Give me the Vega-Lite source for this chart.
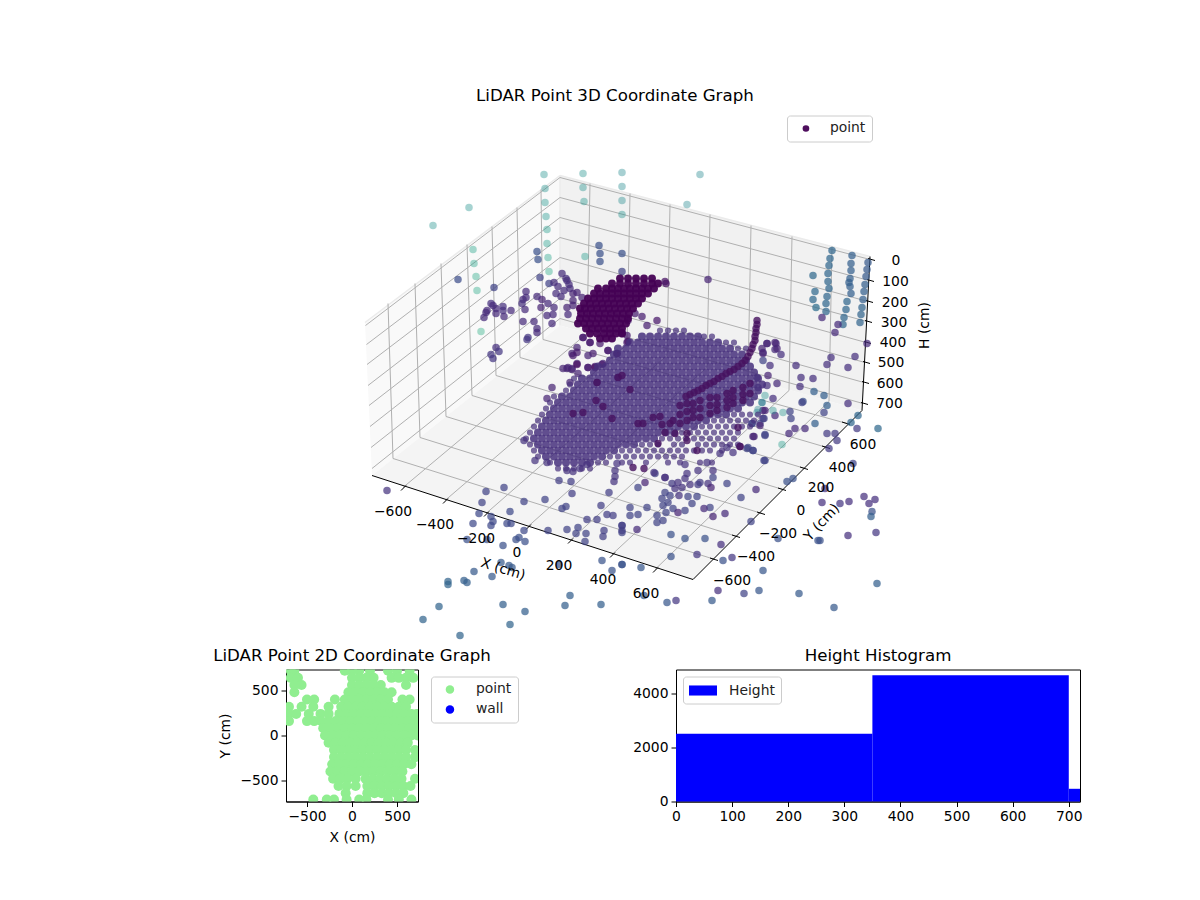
{
"$schema":"https://vega.github.io/schema/vega-lite/v6.json",
"background":"white",
"padding":{"left":212,"top":87.5,"right":120,"bottom":50},
"bounds":"flush",
"spacing":29,
"resolve":{"scale":{"color":"independent"},"legend":{"color":"independent"}},
"config":{"font":"DejaVu Sans","view":{"stroke":null},
"title":{"fontSize":16.67,"fontWeight":"normal","color":"black","offset":5},
"axis":{"grid":false,"domainColor":"black","tickColor":"black","tickSize":5,"labelColor":"black","titleColor":"black","labelFontSize":13.89,"titleFontSize":13.89,"titleFontWeight":"normal","labelPadding":3,"labelFlush":false,"labelOverlap":false,"titlePadding":7},
"legend":{"labelFontSize":13.89,"labelColor":"#222222","fillColor":"white","strokeColor":"#cccccc","cornerRadius":3,"padding":6,"labelOffset":17,"symbolOffset":6}},
"datasets":{
"paneLeft":[{"u":365,"v":322,"v2":322},{"u":372,"v":317,"v2":475},{"u":560,"v":175,"v2":325}],
"paneBack":[{"u":560,"v":175,"v2":325},{"u":862,"v":254,"v2":410},{"u":870,"v":256,"v2":256}],
"paneFloor":[{"u":372,"v":475,"v2":475},{"u":560,"v":325,"v2":536},{"u":693,"v":362,"v2":579},{"u":862,"v":410,"v2":410}],
"edges":[{"u":365,"v":322,"u2":560,"v2":175},{"u":560,"v":175,"u2":870,"v2":256},{"u":560,"v":175,"u2":560,"v2":325}],
"grid":[
{"u":388,"v":303,"u2":393,"v2":458},{"u":415,"v":283,"u2":420,"v2":437},{"u":441,"v":263,"u2":446,"v2":416},{"u":467,"v":244,"u2":472,"v2":395},{"u":492,"v":226,"u2":496,"v2":375},{"u":517,"v":207,"u2":520,"v2":357},{"u":541,"v":189,"u2":543,"v2":339},
{"u":590,"v":183,"u2":587,"v2":333},{"u":630,"v":193,"u2":627,"v2":344},{"u":670,"v":204,"u2":667,"v2":355},{"u":710,"v":214,"u2":707,"v2":367},{"u":751,"v":225,"u2":748,"v2":378},{"u":792,"v":236,"u2":789,"v2":390},{"u":832,"v":246,"u2":829,"v2":401},
{"u":365.5,"v":325,"u2":560,"v2":177},{"u":366.5,"v":344,"u2":560,"v2":197},{"u":367,"v":364,"u2":560,"v2":217},{"u":368,"v":385,"u2":560,"v2":237},{"u":369,"v":405,"u2":560,"v2":257},{"u":370,"v":426,"u2":560,"v2":277},{"u":371,"v":447,"u2":560,"v2":298},{"u":372,"v":468,"u2":560,"v2":318},
{"u":560,"v":177,"u2":870,"v2":259},{"u":560,"v":197,"u2":869,"v2":280},{"u":560,"v":217,"u2":868,"v2":301},{"u":560,"v":237,"u2":867,"v2":321},{"u":560,"v":257,"u2":866,"v2":342},{"u":560,"v":277,"u2":865,"v2":362},{"u":560,"v":298,"u2":864,"v2":382},{"u":560,"v":318,"u2":863,"v2":403},
{"u":393,"v":458,"u2":715,"v2":559},{"u":420,"v":437,"u2":737,"v2":536},{"u":446,"v":416,"u2":762,"v2":513},{"u":472,"v":395,"u2":783,"v2":489},{"u":496,"v":375,"u2":805,"v2":468},{"u":520,"v":357,"u2":827,"v2":447},{"u":543,"v":339,"u2":847,"v2":423},
{"u":403,"v":487,"u2":587,"v2":333},{"u":445,"v":500,"u2":627,"v2":344},{"u":486,"v":513,"u2":667,"v2":355},{"u":528,"v":526,"u2":707,"v2":367},{"u":570,"v":540,"u2":748,"v2":378},{"u":612,"v":554,"u2":789,"v2":390},{"u":655,"v":569,"u2":829,"v2":401}],
"axes":[
{"u":372,"v":475,"u2":693,"v2":579},{"u":693,"v":579,"u2":862,"v2":410},{"u":862,"v":410,"u2":870,"v2":256},
{"u":401,"v":490,"u2":406,"v2":485},{"u":443,"v":503,"u2":448,"v2":498},{"u":484,"v":516,"u2":489,"v2":511},{"u":526,"v":529,"u2":531,"v2":524},{"u":568,"v":543,"u2":573,"v2":538},{"u":610,"v":557,"u2":615,"v2":552},{"u":653,"v":572,"u2":658,"v2":567},
{"u":710,"v":557.5,"u2":718,"v2":560},{"u":732,"v":534.5,"u2":740,"v2":537},{"u":757,"v":511.5,"u2":765,"v2":514},{"u":778,"v":487.5,"u2":786,"v2":490},{"u":800,"v":466.5,"u2":808,"v2":469},{"u":822,"v":445.5,"u2":830,"v2":448},{"u":842,"v":421.5,"u2":850,"v2":424},
{"u":868,"v":258,"u2":875,"v2":260},{"u":867,"v":279,"u2":874,"v2":281},{"u":866,"v":300,"u2":873,"v2":302},{"u":865,"v":320,"u2":872,"v2":322},{"u":864,"v":341,"u2":871,"v2":343},{"u":863,"v":361,"u2":870,"v2":363},{"u":862,"v":381,"u2":869,"v2":383},{"u":861,"v":402,"u2":868,"v2":404}],
"ticks":[
{"u":393,"v":511,"t":"−600"},{"u":435,"v":524,"t":"−400"},{"u":476,"v":538,"t":"−200"},{"u":517,"v":552,"t":"0"},{"u":559,"v":565,"t":"200"},{"u":603,"v":579,"t":"400"},{"u":646,"v":593,"t":"600"},
{"u":732,"v":580,"t":"−600"},{"u":756,"v":556,"t":"−400"},{"u":778,"v":533,"t":"−200"},{"u":801,"v":510,"t":"0"},{"u":821,"v":487,"t":"200"},{"u":842,"v":467,"t":"400"},{"u":863,"v":444,"t":"600"},
{"u":896,"v":260,"t":"0"},{"u":895.5,"v":281,"t":"100"},{"u":895,"v":302,"t":"200"},{"u":894,"v":322,"t":"300"},{"u":893,"v":342,"t":"400"},{"u":891,"v":362,"t":"500"},{"u":890,"v":383,"t":"600"},{"u":889.5,"v":403,"t":"700"}],
"labels":[{"u":503,"v":569,"t":"X (cm)","a":17},{"u":822,"v":522,"t":"Y (cm)","a":313},{"u":925,"v":325,"t":"H (cm)","a":270}],
"scatter":[
{"u":544,"v":174,"c":0.5},{"u":545,"v":188,"c":0.5},{"u":545,"v":202,"c":0.52},{"u":546,"v":216,"c":0.53},{"u":547,"v":229,"c":0.54},{"u":547,"v":243,"c":0.56},{"u":548,"v":257,"c":0.58},{"u":549,"v":271,"c":0.6},{"u":583,"v":173,"c":0.5},{"u":583,"v":187,"c":0.5},{"u":584,"v":201,"c":0.52},{"u":622,"v":172,"c":0.47},{"u":622,"v":186,"c":0.47},{"u":622,"v":200,"c":0.48},{"u":622,"v":214,"c":0.5},{"u":469,"v":207,"c":0.5},{"u":433,"v":225,"c":0.5},{"u":473,"v":249,"c":0.58},{"u":474,"v":263,"c":0.58},{"u":476,"v":276,"c":0.6},{"u":477,"v":290,"c":0.6},{"u":481,"v":331,"c":0.62},{"u":585,"v":256,"c":0.55},{"u":700,"v":174,"c":0.46},{"u":687,"v":204,"c":0.46},
{"u":599,"v":245,"c":0.25},{"u":600,"v":253,"c":0.25},{"u":600,"v":261,"c":0.25},{"u":622,"v":253,"c":0.25},{"u":622,"v":271,"c":0.2},{"u":537,"v":251,"c":0.25},{"u":538,"v":259,"c":0.25},{"u":458,"v":279,"c":0.23},{"u":540,"v":277,"c":0.2},{"u":494,"v":287,"c":0.2},
{"u":562,"v":273,"c":0.13},{"u":566,"v":278,"c":0.13},{"u":567,"v":280,"c":0.13},{"u":569,"v":284,"c":0.13},{"u":570,"v":288,"c":0.13},{"u":549,"v":283,"c":0.2},{"u":554,"v":282,"c":0.13},{"u":558,"v":286,"c":0.13},{"u":556,"v":293,"c":0.13},{"u":561,"v":296,"c":0.13},{"u":564,"v":290,"c":0.13},{"u":573,"v":293,"c":0.1},{"u":577,"v":292,"c":0.1},{"u":582,"v":297,"c":0.1},{"u":573,"v":300,"c":0.1},{"u":573,"v":305,"c":0.1},{"u":567,"v":307,"c":0.1},{"u":554,"v":307,"c":0.12},{"u":568,"v":314,"c":0.12},{"u":553,"v":314,"c":0.12},{"u":547,"v":315,"c":0.12},{"u":552,"v":323,"c":0.12},{"u":548,"v":303,"c":0.12},{"u":541,"v":307,"c":0.1},{"u":542,"v":299,"c":0.1},{"u":537,"v":296,"c":0.12},{"u":526,"v":291,"c":0.12},{"u":526,"v":297,"c":0.12},{"u":523,"v":299,"c":0.12},{"u":522,"v":303,"c":0.14},{"u":525,"v":309,"c":0.12},{"u":503,"v":306,"c":0.14},{"u":511,"v":310,"c":0.12},{"u":503,"v":310,"c":0.14},{"u":496,"v":308,"c":0.12},{"u":496,"v":313,"c":0.12},{"u":491,"v":303,"c":0.14},{"u":493,"v":305,"c":0.12},{"u":487,"v":310,"c":0.12},{"u":486,"v":312,"c":0.12},{"u":484,"v":317,"c":0.12},{"u":504,"v":316,"c":0.12},{"u":523,"v":321,"c":0.12},{"u":534,"v":321,"c":0.12},{"u":537,"v":328,"c":0.12},{"u":537,"v":332,"c":0.12},{"u":528,"v":337,"c":0.16},{"u":527,"v":339,"c":0.16},{"u":496,"v":347,"c":0.14},{"u":491,"v":354,"c":0.16},{"u":499,"v":351,"c":0.16},{"u":493,"v":358,"c":0.16},
{"u":552,"v":387,"c":0.1},{"u":547,"v":398,"c":0.1},{"u":572,"v":353,"c":0.1},{"u":577,"v":347,"c":0.1},{"u":583,"v":337,"c":0.08},{"u":590,"v":342,"c":0.08},{"u":593,"v":353,"c":0.08},{"u":608,"v":350,"c":0.08},{"u":617,"v":353,"c":0.08},{"u":622,"v":333,"c":0.08},{"u":627,"v":342,"c":0.08},{"u":567,"v":368,"c":0.1},{"u":572,"v":368,"c":0.1},{"u":577,"v":363,"c":0.1},{"u":588,"v":367,"c":0.1},{"u":595,"v":366,"c":0.08},{"u":603,"v":363,"c":0.1},{"u":578,"v":373,"c":0.1},{"u":570,"v":382,"c":0.1},{"u":597,"v":382,"c":0.1},{"u":618,"v":377,"c":0.1},
{"u":642,"v":316,"c":0.08},{"u":657,"v":320,"c":0.06},{"u":647,"v":325,"c":0.08},{"u":635,"v":313,"c":0.08},{"u":628,"v":320,"c":0.08},{"u":622,"v":332,"c":0.07},{"u":627,"v":335,"c":0.07},{"u":628,"v":341,"c":0.04},{"u":617,"v":353,"c":0.04},{"u":608,"v":350,"c":0.07},{"u":600,"v":343,"c":0.07},{"u":590,"v":342,"c":0.07},{"u":583,"v":337,"c":0.07},{"u":573,"v":355,"c":0.07},{"u":577,"v":352,"c":0.07},{"u":588,"v":355,"c":0.1},{"u":595,"v":367,"c":0.03},{"u":588,"v":367,"c":0.07},{"u":602,"v":364,"c":0.07},{"u":563,"v":368,"c":0.1},{"u":568,"v":367,"c":0.1},{"u":572,"v":369,"c":0.1},{"u":577,"v":364,"c":0.03},
{"u":665,"v":281,"c":0.04},{"u":666,"v":283,"c":0.04},{"u":708,"v":279,"c":0.1},
{"u":832,"v":250,"c":0.33},{"u":830,"v":258,"c":0.33},{"u":829,"v":265,"c":0.33},{"u":828,"v":273,"c":0.33},{"u":828,"v":281,"c":0.33},{"u":829,"v":288,"c":0.33},{"u":827,"v":296,"c":0.33},{"u":826,"v":303,"c":0.33},{"u":826,"v":311,"c":0.33},
{"u":852,"v":255,"c":0.3},{"u":851,"v":263,"c":0.3},{"u":851,"v":270,"c":0.3},{"u":850,"v":278,"c":0.3},{"u":849,"v":282,"c":0.3},{"u":850,"v":286,"c":0.3},{"u":851,"v":293,"c":0.3},{"u":847,"v":301,"c":0.33},{"u":846,"v":309,"c":0.33},{"u":844,"v":317,"c":0.33},{"u":843,"v":324,"c":0.33},
{"u":868,"v":262,"c":0.28},{"u":867,"v":269,"c":0.28},{"u":866,"v":276,"c":0.28},{"u":865,"v":284,"c":0.3},{"u":864,"v":291,"c":0.3},{"u":863,"v":299,"c":0.3},{"u":862,"v":307,"c":0.32},{"u":861,"v":314,"c":0.32},{"u":860,"v":322,"c":0.32},
{"u":813,"v":275,"c":0.34},{"u":815,"v":291,"c":0.34},{"u":813,"v":299,"c":0.34},{"u":816,"v":307,"c":0.36},
{"u":822,"v":317,"c":0.12},{"u":838,"v":324,"c":0.12},{"u":835,"v":332,"c":0.12},{"u":867,"v":343,"c":0.12},{"u":855,"v":356,"c":0.14},{"u":848,"v":367,"c":0.14},{"u":831,"v":357,"c":0.14},{"u":827,"v":364,"c":0.14},{"u":813,"v":378,"c":0.14},{"u":801,"v":377,"c":0.14},{"u":800,"v":386,"c":0.14},{"u":796,"v":365,"c":0.14},{"u":781,"v":354,"c":0.14},{"u":776,"v":343,"c":0.12},{"u":775,"v":349,"c":0.12},{"u":767,"v":343,"c":0.12},{"u":763,"v":352,"c":0.14},{"u":824,"v":395,"c":0.3},{"u":814,"v":391,"c":0.3},{"u":803,"v":401,"c":0.25},
{"u":767,"v":343,"c":0.1},{"u":775,"v":342,"c":0.1},{"u":777,"v":348,"c":0.1},{"u":762,"v":348,"c":0.1},{"u":763,"v":353,"c":0.1},{"u":757,"v":377,"c":0.15},{"u":763,"v":360,"c":0.2},{"u":770,"v":365,"c":0.14},{"u":768,"v":375,"c":0.1},{"u":758,"v":387,"c":0.15},{"u":767,"v":385,"c":0.14},{"u":777,"v":383,"c":0.12},{"u":773,"v":398,"c":0.14},{"u":765,"v":395,"c":0.5},{"u":762,"v":402,"c":0.4},{"u":757,"v":412,"c":0.45},{"u":763,"v":410,"c":0.12},{"u":775,"v":415,"c":0.12},{"u":763,"v":418,"c":0.12},{"u":760,"v":423,"c":0.2},{"u":752,"v":423,"c":0.2},{"u":765,"v":435,"c":0.2},{"u":753,"v":436,"c":0.1},{"u":753,"v":450,"c":0.2},{"u":765,"v":460,"c":0.2},{"u":747,"v":448,"c":0.2},
{"u":878,"v":428,"c":0.34},{"u":858,"v":415,"c":0.33},{"u":851,"v":422,"c":0.33},{"u":857,"v":428,"c":0.17},{"u":835,"v":433,"c":0.17},{"u":837,"v":440,"c":0.17},{"u":827,"v":433,"c":0.17},{"u":829,"v":448,"c":0.17},{"u":853,"v":463,"c":0.2},{"u":815,"v":423,"c":0.3},{"u":805,"v":428,"c":0.12},{"u":795,"v":428,"c":0.12},{"u":789,"v":433,"c":0.12},{"u":783,"v":412,"c":0.5},{"u":790,"v":411,"c":0.2},{"u":791,"v":418,"c":0.2},{"u":827,"v":405,"c":0.3},{"u":824,"v":412,"c":0.2},{"u":802,"v":402,"c":0.2},{"u":848,"v":403,"c":0.14},{"u":765,"v":434,"c":0.2},{"u":754,"v":436,"c":0.1},{"u":760,"v":425,"c":0.1},{"u":752,"v":423,"c":0.2},{"u":764,"v":418,"c":0.2},{"u":765,"v":410,"c":0.1},{"u":782,"v":444,"c":0.55},{"u":773,"v":410,"c":0.5},{"u":758,"v":409,"c":0.45},
{"u":764,"v":460,"c":0.2},{"u":748,"v":447,"c":0.2},{"u":753,"v":450,"c":0.2},{"u":740,"v":446,"c":0.06},
{"u":787,"v":481,"c":0.25},{"u":793,"v":478,"c":0.25},{"u":756,"v":489,"c":0.12},{"u":741,"v":497,"c":0.2},{"u":727,"v":483,"c":0.2},{"u":713,"v":477,"c":0.2},{"u":710,"v":507,"c":0.2},{"u":704,"v":508,"c":0.12},{"u":725,"v":513,"c":0.12},{"u":713,"v":516,"c":0.1},{"u":751,"v":521,"c":0.2},{"u":721,"v":544,"c":0.14},{"u":705,"v":538,"c":0.25},{"u":685,"v":538,"c":0.25},{"u":671,"v":534,"c":0.25},{"u":671,"v":556,"c":0.25},{"u":697,"v":554,"c":0.16},{"u":732,"v":557,"c":0.16},{"u":723,"v":560,"c":0.25},{"u":763,"v":570,"c":0.27},{"u":718,"v":590,"c":0.14},{"u":744,"v":593,"c":0.2},{"u":759,"v":590,"c":0.27},{"u":799,"v":593,"c":0.28},{"u":834,"v":607,"c":0.28},{"u":712,"v":600,"c":0.28},{"u":676,"v":600,"c":0.16},{"u":667,"v":602,"c":0.27},{"u":644,"v":595,"c":0.28},{"u":641,"v":567,"c":0.27},{"u":622,"v":564,"c":0.25},
{"u":825,"v":488,"c":0.14},{"u":822,"v":502,"c":0.14},{"u":840,"v":503,"c":0.16},{"u":849,"v":501,"c":0.14},{"u":864,"v":496,"c":0.14},{"u":875,"v":499,"c":0.14},{"u":869,"v":503,"c":0.14},{"u":872,"v":511,"c":0.25},{"u":871,"v":516,"c":0.3},{"u":876,"v":532,"c":0.16},{"u":848,"v":535,"c":0.14},{"u":820,"v":540,"c":0.25},{"u":778,"v":538,"c":0.25},{"u":877,"v":583,"c":0.3},{"u":818,"v":540,"c":0.25},
{"u":700,"v":482,"c":0.17},{"u":672,"v":483,"c":0.17},{"u":678,"v":482,"c":0.15},{"u":685,"v":478,"c":0.15},{"u":690,"v":484,"c":0.15},{"u":698,"v":484,"c":0.17},{"u":708,"v":483,"c":0.15},{"u":711,"v":487,"c":0.1},{"u":682,"v":487,"c":0.15},{"u":675,"v":488,"c":0.15},{"u":665,"v":492,"c":0.2},{"u":670,"v":495,"c":0.2},{"u":662,"v":498,"c":0.2},{"u":668,"v":502,"c":0.2},{"u":679,"v":495,"c":0.15},{"u":688,"v":496,"c":0.2},{"u":697,"v":496,"c":0.2},{"u":692,"v":503,"c":0.2},{"u":673,"v":508,"c":0.2},{"u":663,"v":505,"c":0.2},{"u":678,"v":512,"c":0.1},{"u":685,"v":510,"c":0.2},{"u":666,"v":512,"c":0.2},{"u":657,"v":515,"c":0.2},{"u":663,"v":520,"c":0.2},{"u":657,"v":522,"c":0.2},{"u":647,"v":507,"c":0.2},{"u":638,"v":514,"c":0.2},{"u":630,"v":507,"c":0.2},{"u":630,"v":515,"c":0.2},{"u":622,"v":525,"c":0.2},{"u":637,"v":529,"c":0.12},{"u":622,"v":532,"c":0.2},{"u":645,"v":482,"c":0.1},{"u":638,"v":487,"c":0.2},{"u":665,"v":477,"c":0.1},{"u":655,"v":473,"c":0.2},
{"u":387,"v":490,"c":0.15},{"u":486,"v":491,"c":0.2},{"u":504,"v":487,"c":0.2},{"u":524,"v":440,"c":0.15},{"u":482,"v":502,"c":0.2},{"u":479,"v":513,"c":0.22},{"u":473,"v":523,"c":0.22},{"u":491,"v":516,"c":0.22},{"u":493,"v":521,"c":0.22},{"u":491,"v":525,"c":0.22},{"u":510,"v":511,"c":0.22},{"u":507,"v":523,"c":0.22},{"u":511,"v":523,"c":0.22},{"u":524,"v":501,"c":0.2},{"u":545,"v":499,"c":0.2},{"u":524,"v":530,"c":0.22},{"u":548,"v":530,"c":0.2},{"u":567,"v":529,"c":0.2},{"u":578,"v":527,"c":0.2},{"u":576,"v":533,"c":0.2},{"u":586,"v":533,"c":0.2},{"u":585,"v":541,"c":0.2},{"u":587,"v":519,"c":0.18},{"u":597,"v":519,"c":0.18},{"u":601,"v":505,"c":0.18},{"u":607,"v":514,"c":0.18},{"u":613,"v":515,"c":0.18},{"u":622,"v":525,"c":0.18},{"u":622,"v":530,"c":0.18},{"u":604,"v":530,"c":0.18},{"u":603,"v":536,"c":0.18},{"u":562,"v":508,"c":0.2},{"u":566,"v":506,"c":0.2},{"u":572,"v":493,"c":0.18},{"u":559,"v":480,"c":0.18},{"u":571,"v":481,"c":0.18},{"u":609,"v":492,"c":0.18},{"u":516,"v":539,"c":0.24},{"u":519,"v":537,"c":0.24},{"u":525,"v":541,"c":0.24},{"u":503,"v":545,"c":0.24},{"u":487,"v":539,"c":0.24},{"u":467,"v":539,"c":0.24},
{"u":501,"v":562,"c":0.28},{"u":509,"v":565,"c":0.28},{"u":512,"v":567,"c":0.28},{"u":492,"v":576,"c":0.28},{"u":474,"v":571,"c":0.28},{"u":464,"v":580,"c":0.3},{"u":467,"v":582,"c":0.3},{"u":448,"v":581,"c":0.32},{"u":448,"v":584,"c":0.32},{"u":439,"v":606,"c":0.32},{"u":423,"v":619,"c":0.32},{"u":503,"v":604,"c":0.3},{"u":525,"v":611,"c":0.3},{"u":510,"v":624,"c":0.32},{"u":460,"v":635,"c":0.32},{"u":570,"v":595,"c":0.3},{"u":565,"v":605,"c":0.3},{"u":601,"v":604,"c":0.3},{"u":559,"v":564,"c":0.26},{"u":602,"v":560,"c":0.26},{"u":612,"v":570,"c":0.26},{"u":622,"v":564,"c":0.26},
{"u":535,"v":460,"c":0.15},{"u":547,"v":462,"c":0.15},{"u":567,"v":470,"c":0.15},{"u":573,"v":471,"c":0.15},{"u":580,"v":468,"c":0.15},{"u":587,"v":464,"c":0.15},{"u":617,"v":463,"c":0.15},{"u":615,"v":470,"c":0.15},{"u":615,"v":476,"c":0.15},{"u":614,"v":481,"c":0.15},{"u":654,"v":472,"c":0.15},{"u":665,"v":477,"c":0.15},{"u":685,"v":464,"c":0.15},{"u":687,"v":473,"c":0.15},{"u":698,"v":470,"c":0.15},{"u":707,"v":462,"c":0.15},{"u":720,"v":453,"c":0.15},{"u":713,"v":470,"c":0.15},{"u":727,"v":447,"c":0.15},{"u":733,"v":452,"c":0.15}
],
"fringe":[
{"u":660,"v":330},{"u":668,"v":330},{"u":676,"v":330},{"u":684,"v":330},{"u":704,"v":336},{"u":712,"v":336},{"u":726,"v":342},{"u":734,"v":342},{"u":738,"v":348},{"u":746,"v":348},
{"u":574,"v":378},{"u":570,"v":384},{"u":566,"v":390},{"u":554,"v":396},{"u":550,"v":402},{"u":546,"v":408},{"u":542,"v":414},{"u":538,"v":420},{"u":534,"v":426},{"u":530,"v":432},{"u":526,"v":438},{"u":530,"v":444},{"u":534,"v":450},{"u":538,"v":456},{"u":550,"v":462},
{"u":558,"v":468},{"u":566,"v":468},{"u":574,"v":468},{"u":582,"v":468},{"u":590,"v":468},
{"u":642,"v":444},{"u":650,"v":444},{"u":658,"v":444},{"u":622,"v":450},{"u":630,"v":450},{"u":638,"v":450},{"u":646,"v":450},{"u":654,"v":450},{"u":662,"v":450},{"u":670,"v":450},
{"u":610,"v":456},{"u":618,"v":456},{"u":626,"v":456},{"u":634,"v":456},{"u":642,"v":456},{"u":650,"v":456},{"u":658,"v":456},{"u":666,"v":456},{"u":674,"v":456},{"u":682,"v":456},
{"u":598,"v":462},{"u":606,"v":462},{"u":622,"v":462},{"u":630,"v":462},{"u":646,"v":462},{"u":668,"v":462},{"u":680,"v":462},{"u":700,"v":462},{"u":712,"v":462},
{"u":734,"v":414},{"u":742,"v":414},{"u":750,"v":414},{"u":758,"v":414},{"u":714,"v":420},{"u":722,"v":420},{"u":730,"v":420},{"u":738,"v":420},{"u":746,"v":420},{"u":754,"v":420},
{"u":702,"v":426},{"u":710,"v":426},{"u":718,"v":426},{"u":726,"v":426},{"u":734,"v":426},{"u":742,"v":426},{"u":750,"v":426},
{"u":682,"v":432},{"u":690,"v":432},{"u":698,"v":432},{"u":706,"v":432},{"u":714,"v":432},{"u":722,"v":432},{"u":730,"v":432},{"u":738,"v":432},
{"u":662,"v":438},{"u":670,"v":438},{"u":678,"v":438},{"u":686,"v":438},{"u":694,"v":438},{"u":702,"v":438},{"u":710,"v":438},{"u":718,"v":438},{"u":726,"v":438},{"u":734,"v":438},
{"u":674,"v":444},{"u":682,"v":444},{"u":698,"v":444},{"u":706,"v":444},{"u":714,"v":444},{"u":722,"v":444},{"u":730,"v":444},{"u":738,"v":444},
{"u":678,"v":450},{"u":686,"v":450},{"u":694,"v":450},{"u":702,"v":450},{"u":710,"v":450},{"u":722,"v":450}
],
"blob":[
{"u":642,"v":336},{"u":650,"v":336},{"u":658,"v":336},{"u":666,"v":336},{"u":674,"v":336},{"u":682,"v":336},{"u":690,"v":336},{"u":698,"v":336},
{"u":630,"v":342},{"u":638,"v":342},{"u":646,"v":342},{"u":654,"v":342},{"u":662,"v":342},{"u":670,"v":342},{"u":678,"v":342},{"u":686,"v":342},{"u":694,"v":342},{"u":702,"v":342},{"u":710,"v":342},{"u":718,"v":342},
{"u":618,"v":348},{"u":626,"v":348},{"u":634,"v":348},{"u":642,"v":348},{"u":650,"v":348},{"u":658,"v":348},{"u":666,"v":348},{"u":674,"v":348},{"u":682,"v":348},{"u":690,"v":348},{"u":698,"v":348},{"u":706,"v":348},{"u":714,"v":348},{"u":722,"v":348},{"u":730,"v":348},
{"u":614,"v":354},{"u":622,"v":354},{"u":630,"v":354},{"u":638,"v":354},{"u":646,"v":354},{"u":654,"v":354},{"u":662,"v":354},{"u":670,"v":354},{"u":678,"v":354},{"u":686,"v":354},{"u":694,"v":354},{"u":702,"v":354},{"u":710,"v":354},{"u":718,"v":354},{"u":726,"v":354},{"u":734,"v":354},{"u":742,"v":354},
{"u":610,"v":360},{"u":618,"v":360},{"u":626,"v":360},{"u":634,"v":360},{"u":642,"v":360},{"u":650,"v":360},{"u":658,"v":360},{"u":666,"v":360},{"u":674,"v":360},{"u":682,"v":360},{"u":690,"v":360},{"u":698,"v":360},{"u":706,"v":360},{"u":714,"v":360},{"u":722,"v":360},{"u":730,"v":360},{"u":738,"v":360},{"u":746,"v":360},
{"u":598,"v":366},{"u":606,"v":366},{"u":614,"v":366},{"u":622,"v":366},{"u":630,"v":366},{"u":638,"v":366},{"u":646,"v":366},{"u":654,"v":366},{"u":662,"v":366},{"u":670,"v":366},{"u":678,"v":366},{"u":686,"v":366},{"u":694,"v":366},{"u":702,"v":366},{"u":710,"v":366},{"u":718,"v":366},{"u":726,"v":366},{"u":734,"v":366},{"u":742,"v":366},{"u":750,"v":366},
{"u":594,"v":372},{"u":602,"v":372},{"u":610,"v":372},{"u":618,"v":372},{"u":626,"v":372},{"u":634,"v":372},{"u":642,"v":372},{"u":650,"v":372},{"u":658,"v":372},{"u":666,"v":372},{"u":674,"v":372},{"u":682,"v":372},{"u":690,"v":372},{"u":698,"v":372},{"u":706,"v":372},{"u":714,"v":372},{"u":722,"v":372},{"u":730,"v":372},{"u":738,"v":372},{"u":746,"v":372},{"u":754,"v":372},
{"u":582,"v":378},{"u":590,"v":378},{"u":598,"v":378},{"u":606,"v":378},{"u":614,"v":378},{"u":622,"v":378},{"u":630,"v":378},{"u":638,"v":378},{"u":646,"v":378},{"u":654,"v":378},{"u":662,"v":378},{"u":670,"v":378},{"u":678,"v":378},{"u":686,"v":378},{"u":694,"v":378},{"u":702,"v":378},{"u":710,"v":378},{"u":718,"v":378},{"u":726,"v":378},{"u":734,"v":378},{"u":742,"v":378},{"u":750,"v":378},{"u":758,"v":378},
{"u":578,"v":384},{"u":586,"v":384},{"u":594,"v":384},{"u":602,"v":384},{"u":610,"v":384},{"u":618,"v":384},{"u":626,"v":384},{"u":634,"v":384},{"u":642,"v":384},{"u":650,"v":384},{"u":658,"v":384},{"u":666,"v":384},{"u":674,"v":384},{"u":682,"v":384},{"u":690,"v":384},{"u":698,"v":384},{"u":706,"v":384},{"u":714,"v":384},{"u":722,"v":384},{"u":730,"v":384},{"u":738,"v":384},{"u":746,"v":384},{"u":754,"v":384},{"u":762,"v":384},
{"u":574,"v":390},{"u":582,"v":390},{"u":590,"v":390},{"u":598,"v":390},{"u":606,"v":390},{"u":614,"v":390},{"u":622,"v":390},{"u":630,"v":390},{"u":638,"v":390},{"u":646,"v":390},{"u":654,"v":390},{"u":662,"v":390},{"u":670,"v":390},{"u":678,"v":390},{"u":686,"v":390},{"u":694,"v":390},{"u":702,"v":390},{"u":710,"v":390},{"u":718,"v":390},{"u":726,"v":390},{"u":734,"v":390},{"u":742,"v":390},{"u":750,"v":390},{"u":758,"v":390},
{"u":562,"v":396},{"u":570,"v":396},{"u":578,"v":396},{"u":586,"v":396},{"u":594,"v":396},{"u":602,"v":396},{"u":610,"v":396},{"u":618,"v":396},{"u":626,"v":396},{"u":634,"v":396},{"u":642,"v":396},{"u":650,"v":396},{"u":658,"v":396},{"u":666,"v":396},{"u":674,"v":396},{"u":682,"v":396},{"u":690,"v":396},{"u":698,"v":396},{"u":706,"v":396},{"u":714,"v":396},{"u":722,"v":396},{"u":730,"v":396},{"u":738,"v":396},{"u":746,"v":396},{"u":754,"v":396},
{"u":558,"v":402},{"u":566,"v":402},{"u":574,"v":402},{"u":582,"v":402},{"u":590,"v":402},{"u":598,"v":402},{"u":606,"v":402},{"u":614,"v":402},{"u":622,"v":402},{"u":630,"v":402},{"u":638,"v":402},{"u":646,"v":402},{"u":654,"v":402},{"u":662,"v":402},{"u":670,"v":402},{"u":678,"v":402},{"u":686,"v":402},{"u":694,"v":402},{"u":702,"v":402},{"u":710,"v":402},{"u":718,"v":402},{"u":726,"v":402},{"u":734,"v":402},{"u":742,"v":402},{"u":750,"v":402},
{"u":554,"v":408},{"u":562,"v":408},{"u":570,"v":408},{"u":578,"v":408},{"u":586,"v":408},{"u":594,"v":408},{"u":602,"v":408},{"u":610,"v":408},{"u":618,"v":408},{"u":626,"v":408},{"u":634,"v":408},{"u":642,"v":408},{"u":650,"v":408},{"u":658,"v":408},{"u":666,"v":408},{"u":674,"v":408},{"u":682,"v":408},{"u":690,"v":408},{"u":698,"v":408},{"u":706,"v":408},{"u":714,"v":408},{"u":722,"v":408},{"u":730,"v":408},{"u":738,"v":408},
{"u":550,"v":414},{"u":558,"v":414},{"u":566,"v":414},{"u":574,"v":414},{"u":582,"v":414},{"u":590,"v":414},{"u":598,"v":414},{"u":606,"v":414},{"u":614,"v":414},{"u":622,"v":414},{"u":630,"v":414},{"u":638,"v":414},{"u":646,"v":414},{"u":654,"v":414},{"u":662,"v":414},{"u":670,"v":414},{"u":678,"v":414},{"u":686,"v":414},{"u":694,"v":414},{"u":702,"v":414},{"u":710,"v":414},{"u":718,"v":414},{"u":726,"v":414},
{"u":546,"v":420},{"u":554,"v":420},{"u":562,"v":420},{"u":570,"v":420},{"u":578,"v":420},{"u":586,"v":420},{"u":594,"v":420},{"u":602,"v":420},{"u":610,"v":420},{"u":618,"v":420},{"u":626,"v":420},{"u":634,"v":420},{"u":642,"v":420},{"u":650,"v":420},{"u":658,"v":420},{"u":666,"v":420},{"u":674,"v":420},{"u":682,"v":420},{"u":690,"v":420},{"u":698,"v":420},{"u":706,"v":420},
{"u":542,"v":426},{"u":550,"v":426},{"u":558,"v":426},{"u":566,"v":426},{"u":574,"v":426},{"u":582,"v":426},{"u":590,"v":426},{"u":598,"v":426},{"u":606,"v":426},{"u":614,"v":426},{"u":622,"v":426},{"u":630,"v":426},{"u":638,"v":426},{"u":646,"v":426},{"u":654,"v":426},{"u":662,"v":426},{"u":670,"v":426},{"u":678,"v":426},{"u":686,"v":426},{"u":694,"v":426},
{"u":538,"v":432},{"u":546,"v":432},{"u":554,"v":432},{"u":562,"v":432},{"u":570,"v":432},{"u":578,"v":432},{"u":586,"v":432},{"u":594,"v":432},{"u":602,"v":432},{"u":610,"v":432},{"u":618,"v":432},{"u":626,"v":432},{"u":634,"v":432},{"u":642,"v":432},{"u":650,"v":432},{"u":658,"v":432},{"u":666,"v":432},{"u":674,"v":432},
{"u":534,"v":438},{"u":542,"v":438},{"u":550,"v":438},{"u":558,"v":438},{"u":566,"v":438},{"u":574,"v":438},{"u":582,"v":438},{"u":590,"v":438},{"u":598,"v":438},{"u":606,"v":438},{"u":614,"v":438},{"u":622,"v":438},{"u":630,"v":438},{"u":638,"v":438},{"u":646,"v":438},{"u":654,"v":438},
{"u":538,"v":444},{"u":546,"v":444},{"u":554,"v":444},{"u":562,"v":444},{"u":570,"v":444},{"u":578,"v":444},{"u":586,"v":444},{"u":594,"v":444},{"u":602,"v":444},{"u":610,"v":444},{"u":618,"v":444},{"u":626,"v":444},{"u":634,"v":444},
{"u":542,"v":450},{"u":550,"v":450},{"u":558,"v":450},{"u":566,"v":450},{"u":574,"v":450},{"u":582,"v":450},{"u":590,"v":450},{"u":598,"v":450},{"u":606,"v":450},{"u":614,"v":450},
{"u":546,"v":456},{"u":554,"v":456},{"u":562,"v":456},{"u":570,"v":456},{"u":578,"v":456},{"u":586,"v":456},{"u":594,"v":456},{"u":602,"v":456},
{"u":558,"v":462},{"u":566,"v":462},{"u":574,"v":462},{"u":582,"v":462},{"u":590,"v":462}
],
"dark":[
{"u":757,"v":320},{"u":757,"v":324},{"u":756,"v":328},{"u":756,"v":332},{"u":755,"v":336},{"u":755,"v":340},{"u":753,"v":344},{"u":752,"v":348},{"u":750,"v":352},{"u":748,"v":356},{"u":745,"v":360},{"u":742,"v":363},{"u":738,"v":366},{"u":734,"v":369},{"u":730,"v":371},{"u":726,"v":373},{"u":722,"v":376},{"u":718,"v":378},{"u":714,"v":381},{"u":710,"v":383},{"u":706,"v":385},{"u":702,"v":388},{"u":698,"v":390},{"u":694,"v":392},{"u":690,"v":394},{"u":686,"v":396},
{"u":643,"v":423},{"u":653,"v":417},{"u":660,"v":416},{"u":638,"v":423},{"u":662,"v":424},{"u":670,"v":423},{"u":673,"v":420},{"u":680,"v":405},{"u":680,"v":414},{"u":680,"v":423},{"u":687,"v":403},{"u":687,"v":411},{"u":687,"v":420},{"u":693,"v":403},{"u":693,"v":410},{"u":693,"v":417},{"u":700,"v":400},{"u":700,"v":408},{"u":700,"v":417},{"u":710,"v":397},{"u":710,"v":405},{"u":710,"v":413},{"u":717,"v":397},{"u":717,"v":404},{"u":717,"v":410},{"u":727,"v":393},{"u":727,"v":400},{"u":727,"v":407},{"u":733,"v":390},{"u":733,"v":397},{"u":733,"v":403},{"u":743,"v":387},{"u":743,"v":394},{"u":743,"v":400},{"u":750,"v":383},{"u":750,"v":393},{"u":665,"v":432},{"u":675,"v":433},{"u":687,"v":433},
{"u":618,"v":377},{"u":622,"v":375},{"u":597,"v":382},{"u":630,"v":389},{"u":596,"v":400},{"u":603,"v":406},{"u":573,"v":413},{"u":583,"v":412},{"u":612,"v":418},{"u":658,"v":443},{"u":633,"v":467},{"u":644,"v":468},{"u":697,"v":450},{"u":687,"v":440},{"u":738,"v":427},{"u":740,"v":446}
],
"ridge":[
{"u":600,"v":338},{"u":606,"v":338},{"u":612,"v":338},{"u":616,"v":333},{"u":622,"v":333},{"u":610,"v":328},{"u":616,"v":328},{"u":622,"v":328},
{"u":590,"v":333},{"u":597,"v":333},{"u":604,"v":333},{"u":610,"v":333},
{"u":586,"v":328},{"u":592,"v":328},{"u":598,"v":328},{"u":604,"v":328},
{"u":578,"v":323},{"u":584,"v":323},{"u":590,"v":323},{"u":596,"v":323},{"u":602,"v":323},{"u":608,"v":323},{"u":614,"v":323},{"u":620,"v":323},{"u":626,"v":323},
{"u":580,"v":318},{"u":586,"v":318},{"u":592,"v":318},{"u":598,"v":318},{"u":604,"v":318},{"u":610,"v":318},{"u":616,"v":318},{"u":622,"v":318},{"u":628,"v":318},
{"u":581,"v":313},{"u":587,"v":313},{"u":593,"v":313},{"u":599,"v":313},{"u":605,"v":313},{"u":611,"v":313},{"u":617,"v":313},{"u":623,"v":313},{"u":629,"v":313},
{"u":580,"v":308},{"u":585,"v":308},{"u":591,"v":308},{"u":597,"v":308},{"u":603,"v":308},{"u":609,"v":308},{"u":615,"v":308},{"u":621,"v":308},{"u":627,"v":308},{"u":633,"v":308},
{"u":584,"v":303},{"u":590,"v":303},{"u":596,"v":303},{"u":602,"v":303},{"u":608,"v":303},{"u":614,"v":303},{"u":620,"v":303},{"u":626,"v":303},{"u":632,"v":303},{"u":638,"v":303},
{"u":588,"v":298},{"u":594,"v":298},{"u":600,"v":298},{"u":606,"v":298},{"u":612,"v":298},{"u":618,"v":298},{"u":624,"v":298},{"u":630,"v":298},{"u":636,"v":298},{"u":642,"v":298},
{"u":594,"v":293},{"u":600,"v":293},{"u":606,"v":293},{"u":612,"v":293},{"u":618,"v":293},{"u":624,"v":293},{"u":630,"v":293},{"u":636,"v":293},{"u":642,"v":293},{"u":648,"v":293},
{"u":598,"v":288},{"u":606,"v":288},{"u":612,"v":288},{"u":618,"v":288},{"u":624,"v":288},{"u":630,"v":288},{"u":636,"v":288},{"u":642,"v":288},{"u":648,"v":288},{"u":654,"v":288},
{"u":612,"v":283},{"u":620,"v":283},{"u":628,"v":283},{"u":636,"v":283},{"u":644,"v":283},{"u":652,"v":283},{"u":658,"v":283},
{"u":620,"v":278},{"u":628,"v":278},{"u":636,"v":278},{"u":644,"v":278},{"u":652,"v":278}
],
"plan":[
{"x":-680,"y":720},{"x":-640,"y":720},{"x":-80,"y":720},{"x":0,"y":720},{"x":80,"y":720},{"x":200,"y":720},{"x":400,"y":720},{"x":500,"y":720},{"x":640,"y":720},
{"x":-680,"y":640},{"x":-600,"y":640},{"x":0,"y":640},{"x":80,"y":640},{"x":160,"y":640},{"x":240,"y":640},{"x":440,"y":640},{"x":520,"y":640},{"x":600,"y":640},{"x":680,"y":640},
{"x":-640,"y":560},{"x":-560,"y":560},{"x":0,"y":560},{"x":80,"y":560},{"x":160,"y":560},{"x":240,"y":560},{"x":320,"y":560},{"x":600,"y":560},
{"x":-640,"y":480},{"x":-40,"y":480},{"x":40,"y":480},{"x":120,"y":480},{"x":200,"y":480},{"x":280,"y":480},{"x":360,"y":480},{"x":440,"y":480},
{"x":-500,"y":400},{"x":-420,"y":400},{"x":-190,"y":400},{"x":-80,"y":400},{"x":0,"y":400},{"x":80,"y":400},{"x":160,"y":400},{"x":240,"y":400},{"x":320,"y":400},{"x":400,"y":400},{"x":560,"y":400},{"x":640,"y":400},
{"x":-700,"y":320},{"x":-560,"y":320},{"x":-430,"y":320},{"x":-260,"y":320},{"x":-120,"y":320},{"x":-40,"y":320},{"x":40,"y":320},{"x":120,"y":320},{"x":200,"y":320},{"x":280,"y":320},{"x":360,"y":320},{"x":440,"y":320},{"x":520,"y":320},{"x":600,"y":320},
{"x":-700,"y":240},{"x":-620,"y":240},{"x":-480,"y":240},{"x":-350,"y":240},{"x":-260,"y":240},{"x":-140,"y":240},{"x":-60,"y":240},{"x":20,"y":240},{"x":100,"y":240},{"x":180,"y":240},{"x":260,"y":240},{"x":340,"y":240},{"x":420,"y":240},{"x":500,"y":240},{"x":580,"y":240},{"x":660,"y":240},{"x":720,"y":240},
{"x":-700,"y":160},{"x":-500,"y":160},{"x":-420,"y":160},{"x":-340,"y":160},{"x":-260,"y":160},{"x":-180,"y":160},{"x":-100,"y":160},{"x":-20,"y":160},{"x":60,"y":160},{"x":140,"y":160},{"x":220,"y":160},{"x":300,"y":160},{"x":380,"y":160},{"x":460,"y":160},{"x":540,"y":160},{"x":620,"y":160},{"x":700,"y":160},
{"x":-320,"y":80},{"x":-240,"y":80},{"x":-160,"y":80},{"x":-80,"y":80},{"x":0,"y":80},{"x":80,"y":80},{"x":160,"y":80},{"x":240,"y":80},{"x":320,"y":80},{"x":400,"y":80},{"x":480,"y":80},{"x":560,"y":80},{"x":640,"y":80},{"x":720,"y":80},
{"x":-300,"y":0},{"x":-220,"y":0},{"x":-140,"y":0},{"x":-60,"y":0},{"x":20,"y":0},{"x":100,"y":0},{"x":180,"y":0},{"x":260,"y":0},{"x":340,"y":0},{"x":420,"y":0},{"x":500,"y":0},{"x":580,"y":0},{"x":660,"y":0},{"x":730,"y":0},
{"x":-260,"y":-80},{"x":-180,"y":-80},{"x":-100,"y":-80},{"x":-20,"y":-80},{"x":60,"y":-80},{"x":140,"y":-80},{"x":220,"y":-80},{"x":300,"y":-80},{"x":380,"y":-80},{"x":460,"y":-80},{"x":540,"y":-80},{"x":620,"y":-80},
{"x":-200,"y":-160},{"x":-120,"y":-160},{"x":-40,"y":-160},{"x":40,"y":-160},{"x":120,"y":-160},{"x":200,"y":-160},{"x":280,"y":-160},{"x":360,"y":-160},{"x":440,"y":-160},{"x":520,"y":-160},{"x":600,"y":-160},{"x":700,"y":-160},
{"x":-200,"y":-240},{"x":-120,"y":-240},{"x":-40,"y":-240},{"x":40,"y":-240},{"x":120,"y":-240},{"x":200,"y":-240},{"x":280,"y":-240},{"x":360,"y":-240},{"x":440,"y":-240},{"x":520,"y":-240},{"x":600,"y":-240},{"x":700,"y":-240},
{"x":-220,"y":-320},{"x":-140,"y":-320},{"x":-60,"y":-320},{"x":20,"y":-320},{"x":100,"y":-320},{"x":180,"y":-320},{"x":260,"y":-320},{"x":340,"y":-320},{"x":420,"y":-320},{"x":500,"y":-320},{"x":580,"y":-320},{"x":660,"y":-320},
{"x":-240,"y":-400},{"x":-160,"y":-400},{"x":-80,"y":-400},{"x":0,"y":-400},{"x":80,"y":-400},{"x":160,"y":-400},{"x":240,"y":-400},{"x":320,"y":-400},{"x":400,"y":-400},{"x":480,"y":-400},{"x":560,"y":-400},
{"x":-210,"y":-480},{"x":-130,"y":-480},{"x":-50,"y":-480},{"x":40,"y":-480},{"x":150,"y":-480},{"x":230,"y":-480},{"x":310,"y":-480},{"x":390,"y":-480},{"x":470,"y":-480},{"x":550,"y":-480},{"x":700,"y":-480},
{"x":-150,"y":-560},{"x":-60,"y":-560},{"x":40,"y":-560},{"x":170,"y":-560},{"x":250,"y":-560},{"x":330,"y":-560},{"x":410,"y":-560},{"x":490,"y":-560},{"x":570,"y":-560},{"x":650,"y":-560},
{"x":-70,"y":-640},{"x":170,"y":-640},{"x":250,"y":-640},{"x":330,"y":-640},{"x":410,"y":-640},{"x":490,"y":-640},{"x":570,"y":-640},
{"x":-430,"y":-710},{"x":-280,"y":-710},{"x":-200,"y":-710},{"x":-60,"y":-710},{"x":80,"y":-710},{"x":160,"y":-710},{"x":400,"y":-710},{"x":520,"y":-710},{"x":660,"y":-710}
],
"hist":[{"lo":0,"hi":350,"n":2514},{"lo":350,"hi":700,"n":4681},{"lo":700,"hi":720,"n":471}]
},
"vconcat":[
{"width":794,"height":540,
"title":{"text":"LiDAR Point 3D Coordinate Graph","anchor":"start","dx":190,"offset":-4},
"encoding":{"x":{"field":"u","type":"quantitative","scale":{"domain":[286,1080],"nice":false,"zero":false},"axis":null},"y":{"field":"v","type":"quantitative","scale":{"domain":[640,100],"nice":false,"zero":false},"axis":null}},
"resolve":{"scale":{"color":"independent"}},
"layer":[
{"data":{"name":"paneLeft"},"mark":{"type":"area","color":"#f9f9f9"},"encoding":{"y2":{"field":"v2"}}},
{"data":{"name":"paneBack"},"mark":{"type":"area","color":"#f1f1f1"},"encoding":{"y2":{"field":"v2"}}},
{"data":{"name":"paneFloor"},"mark":{"type":"area","color":"#f4f4f4"},"encoding":{"y2":{"field":"v2"}}},
{"data":{"name":"edges"},"mark":{"type":"rule","color":"#ebebeb","strokeWidth":1.5},"encoding":{"x2":{"field":"u2"},"y2":{"field":"v2"}}},
{"data":{"name":"grid"},"mark":{"type":"rule","color":"#b0b0b0","strokeWidth":1},"encoding":{"x2":{"field":"u2"},"y2":{"field":"v2"}}},
{"data":{"name":"axes"},"mark":{"type":"rule","color":"black","strokeWidth":1},"encoding":{"x2":{"field":"u2"},"y2":{"field":"v2"}}},
{"data":{"name":"scatter"},"mark":{"type":"circle","size":56},"encoding":{"color":{"field":"c","type":"quantitative","scale":{"scheme":"viridis","domain":[0,1]},"legend":null},"opacity":{"condition":{"test":"datum.c>0.42","value":0.4},"value":0.72}}},
{"data":{"name":"fringe"},"mark":{"type":"circle","size":38,"color":"#47307c","opacity":0.7}},
{"data":{"name":"blob"},"mark":{"type":"circle","size":64,"color":"#47307c","opacity":0.85}},
{"data":{"name":"dark"},"mark":{"type":"circle","size":54,"color":"#46125f","opacity":0.8}},
{"data":{"name":"ridge"},"mark":{"type":"circle","size":62,"opacity":0.95},"encoding":{"color":{"datum":"point","type":"nominal","scale":{"domain":["point"],"range":["#440154"]},"legend":{"title":null,"orient":"none","legendX":501,"legendY":15,"symbolSize":44}}}},
{"data":{"name":"ticks"},"mark":{"type":"text","fontSize":13.89,"color":"black","baseline":"middle"},"encoding":{"text":{"field":"t"}}},
{"data":{"name":"labels"},"mark":{"type":"text","fontSize":13.89,"color":"black","baseline":"middle"},"encoding":{"text":{"field":"t"},"angle":{"field":"a","type":"quantitative","scale":null}}}
]},
{"bounds":"flush","spacing":258,"resolve":{"scale":{"color":"independent"},"legend":{"color":"independent"}},"hconcat":[
{"width":132,"height":132,"view":{"stroke":"black","strokeWidth":1},
"title":"LiDAR Point 2D Coordinate Graph",
"data":{"name":"plan"},
"mark":{"type":"circle","size":100,"opacity":1,"clip":true},
"encoding":{
"x":{"field":"x","type":"quantitative","title":"X (cm)","scale":{"domain":[-733,733],"nice":false},"axis":{"values":[-500,0,500]}},
"y":{"field":"y","type":"quantitative","title":"Y (cm)","scale":{"domain":[-733,733],"nice":false},"axis":{"values":[-500,0,500]}},
"color":{"datum":"point","type":"nominal","scale":{"domain":["point","wall"],"range":["#90ee90","#0000ff"]},"legend":{"title":null,"orient":"none","legendX":145,"legendY":7,"symbolSize":72,"labelOffset":19,"rowPadding":5}}}},
{"width":404,"height":132,"view":{"stroke":"black","strokeWidth":1},
"title":"Height Histogram",
"data":{"name":"hist"},
"mark":{"type":"rect"},
"encoding":{
"x":{"field":"lo","type":"quantitative","title":null,"scale":{"domain":[0,720],"nice":false},"axis":{"values":[0,100,200,300,400,500,600,700]}},
"x2":{"field":"hi"},
"y":{"field":"n","type":"quantitative","title":null,"scale":{"domain":[0,4892],"nice":false},"axis":{"values":[0,2000,4000],"format":"d"}},
"y2":{"datum":0},
"color":{"datum":"Height","type":"nominal","scale":{"domain":["Height"],"range":["#0000ff"]},"legend":{"title":null,"orient":"none","legendX":7,"legendY":7,"symbolType":"M-2,-0.72H2V0.72H-2Z","symbolSize":196,"symbolOffset":6,"labelOffset":18}}}}
]}
]}
